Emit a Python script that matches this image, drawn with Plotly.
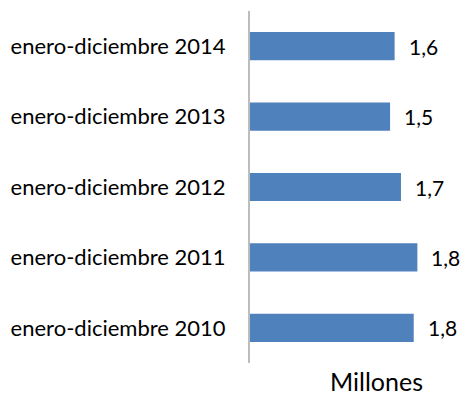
import plotly.graph_objects as go

# Categories listed bottom-to-top as they appear on the axis
periods = [
    "enero-diciembre 2010",
    "enero-diciembre 2011",
    "enero-diciembre 2012",
    "enero-diciembre 2013",
    "enero-diciembre 2014",
]
# Values in millions
values = [1.80, 1.84, 1.66, 1.54, 1.59]

FONT = "Lato"
BLUE = "#4F81BD"

fig = go.Figure(
    go.Bar(
        y=periods,
        x=values,
        orientation="h",
        marker=dict(color=BLUE, line=dict(width=0)),
        hoverinfo="skip",
    )
)

# Value labels to the right of each bar, decimal comma
for p, v in zip(periods, values):
    fig.add_annotation(
        x=v, y=p, xref="x", yref="y",
        text=f"{v:.1f}".replace(".", ","),
        showarrow=False, xanchor="left", yanchor="middle",
        xshift=12,
        font=dict(family=FONT, size=21, color="#000000"),
    )

# Axis title below the plot
fig.add_annotation(
    x=0.70, y=-0.052, xref="paper", yref="paper",
    text="Millones", showarrow=False,
    xanchor="center", yanchor="middle",
    font=dict(family=FONT, size=25, color="#000000"),
)

fig.update_layout(
    width=466, height=397,
    margin=dict(l=246, r=35, t=11, b=34),
    paper_bgcolor="white", plot_bgcolor="white",
    bargap=0.6,
    showlegend=False,
    font=dict(family=FONT, size=22, color="#000000"),
)
fig.update_xaxes(
    range=[0, 1.99], visible=False, showgrid=False, zeroline=False,
)
fig.update_yaxes(
    type="category", showgrid=False, zeroline=False,
    showline=True, linecolor="#BDBDBD", linewidth=2,
    ticks="", ticklabelstandoff=18,
    tickfont=dict(family=FONT, size=22, color="#000000"),
)

fig.write_html("out.html")
